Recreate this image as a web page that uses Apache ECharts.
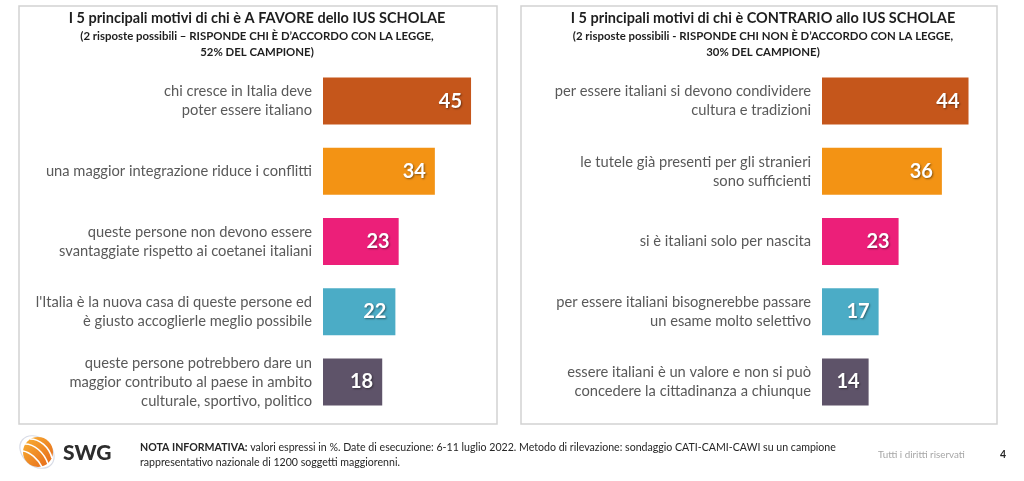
<!DOCTYPE html>
<html>
<head>
<meta charset="utf-8">
<script src="https://cdn.jsdelivr.net/npm/echarts@6/dist/echarts.min.js"></script>
<style>
html,body{margin:0;padding:0;background:#fff;}
#chart{width:1024px;height:481px;}
</style>
</head>
<body>
<div id="chart"></div>
<script>
// ---- DATA ----
var favoreCategories = [
  "chi cresce in Italia deve\npoter essere italiano",
  "una maggior integrazione riduce i conflitti",
  "queste persone non devono essere\nsvantaggiate rispetto ai coetanei italiani",
  "l'Italia è la nuova casa di queste persone ed\nè giusto accoglierle meglio possibile",
  "queste persone potrebbero dare un\nmaggior contributo al paese in ambito\nculturale, sportivo, politico"
];
var favoreValues = [45, 34, 23, 22, 18];

var contrarioCategories = [
  "per essere italiani si devono condividere\ncultura e tradizioni",
  "le tutele già presenti per gli stranieri\nsono sufficienti",
  "si è italiani solo per nascita",
  "per essere italiani bisognerebbe passare\nun esame molto selettivo",
  "essere italiani è un valore e non si può\nconcedere la cittadinanza a chiunque"
];
var contrarioValues = [44, 36, 23, 17, 14];

var barColors = ["#C5561B", "#F39314", "#EC1F79", "#4BACC6", "#5E5369"];

var titleLeft = "I 5 principali motivi di chi è A FAVORE dello IUS SCHOLAE";
var subLeft = "(2 risposte possibili – RISPONDE CHI È D’ACCORDO CON LA LEGGE,\n52% DEL CAMPIONE)";
var titleRight = "I 5 principali motivi di chi è CONTRARIO allo IUS SCHOLAE";
var subRight = "(2 risposte possibili - RISPONDE CHI NON È D’ACCORDO CON LA LEGGE,\n30% DEL CAMPIONE)";

var FONT = "Lato";

function yAxisCfg(gridIndex, cats) {
  return {
    type: 'category', gridIndex: gridIndex, data: cats, inverse: true,
    axisLine: {show: false}, axisTick: {show: false}, splitLine: {show: false},
    axisLabel: {margin: 11, color: '#595959', fontSize: 14.7, lineHeight: 19, fontFamily: FONT, align: 'right'}
  };
}
function xAxisCfg(gridIndex) {
  return {type: 'value', gridIndex: gridIndex, min: 0, max: 50, show: false, splitLine: {show: false}};
}
function seriesCfg(idx, values) {
  return {
    type: 'bar', xAxisIndex: idx, yAxisIndex: idx, data: values, barWidth: 47,
    itemStyle: {color: function (p) { return barColors[p.dataIndex]; }},
    label: {
      show: true, position: 'insideRight', distance: 9, color: '#fff',
      fontFamily: FONT, fontWeight: 'bold', fontSize: 20,
      textShadowColor: 'rgba(0,0,0,0.45)', textShadowBlur: 2, textShadowOffsetX: 1, textShadowOffsetY: 1
    },
    animation: false
  };
}

var chart = echarts.init(document.getElementById('chart'));
chart.setOption({
  animation: false,
  grid: [
    {left: 323, top: 66, width: 164.5, height: 351},
    {left: 822, top: 66, width: 166.5, height: 351}
  ],
  xAxis: [xAxisCfg(0), xAxisCfg(1)],
  yAxis: [yAxisCfg(0, favoreCategories), yAxisCfg(1, contrarioCategories)],
  series: [seriesCfg(0, favoreValues), seriesCfg(1, contrarioValues)],
  graphic: [
    {type: 'rect', shape: {x: 19, y: 6, width: 478, height: 418}, style: {fill: 'none', stroke: '#d2d2d2', lineWidth: 1.5}, z: -1},
    {type: 'rect', shape: {x: 521, y: 6, width: 476, height: 418}, style: {fill: 'none', stroke: '#d2d2d2', lineWidth: 1.5}, z: -1},
    {type: 'text', x: 257, y: 18.5, style: {text: titleLeft, textAlign: 'center', textVerticalAlign: 'middle', font: 'bold 14.5px ' + FONT, fill: '#1e1e1e'}},
    {type: 'text', x: 257, y: 44, style: {text: subLeft, textAlign: 'center', textVerticalAlign: 'middle', font: 'bold 11.4px ' + FONT, fill: '#1e1e1e', lineHeight: 16}},
    {type: 'text', x: 763, y: 18.5, style: {text: titleRight, textAlign: 'center', textVerticalAlign: 'middle', font: 'bold 14.5px ' + FONT, fill: '#1e1e1e'}},
    {type: 'text', x: 763, y: 44, style: {text: subRight, textAlign: 'center', textVerticalAlign: 'middle', font: 'bold 11.4px ' + FONT, fill: '#1e1e1e', lineHeight: 16}},
    // logo
    {type: 'ellipse', shape: {cx: 37, cy: 452, rx: 19, ry: 14}, rotation: -0.7, originX: 37, originY: 452, style: {fill: 'none', stroke: '#d9dce6', lineWidth: 1.2}},
    {type: 'circle', shape: {cx: 38, cy: 452, r: 15}, style: {fill: new echarts.graphic.LinearGradient(0, 0, 1, 1, [{offset: 0, color: '#F9B233'}, {offset: 1, color: '#E5661A'}])}},
    {type: 'bezierCurve', shape: {x1: 25, y1: 444, x2: 48, y2: 464, cpx1: 34, cpy1: 444, cpx2: 44, cpy2: 452}, style: {stroke: '#fff', lineWidth: 1.6, fill: 'none'}},
    {type: 'bezierCurve', shape: {x1: 23, y1: 451, x2: 42, y2: 467, cpx1: 30, cpy1: 452, cpx2: 38, cpy2: 459}, style: {stroke: '#fff', lineWidth: 1.6, fill: 'none'}},
    {type: 'bezierCurve', shape: {x1: 30, y1: 439, x2: 52, y2: 458, cpx1: 40, cpy1: 439, cpx2: 49, cpy2: 447}, style: {stroke: '#fff', lineWidth: 1.6, fill: 'none'}},
    {type: 'text', x: 63, y: 453, style: {text: 'SWG', textVerticalAlign: 'middle', font: '900 21px ' + FONT, fill: '#2d2d2d'}},
    // footer
    {type: 'text', x: 140, y: 448, style: {
      text: '{b|NOTA INFORMATIVA:} valori espressi in %. Date di esecuzione: 6-11 luglio 2022. Metodo di rilevazione: sondaggio CATI-CAMI-CAWI su un campione',
      rich: {b: {fontWeight: 'bold', fontSize: 10.6, fontFamily: FONT, fill: '#262626'}},
      textVerticalAlign: 'middle', font: '10.6px ' + FONT, fill: '#262626'}},
    {type: 'text', x: 140, y: 463, style: {text: 'rappresentativo nazionale di 1200 soggetti maggiorenni.', textVerticalAlign: 'middle', font: '10.6px ' + FONT, fill: '#262626'}},
    {type: 'text', x: 878, y: 455, style: {text: 'Tutti i diritti riservati', textVerticalAlign: 'middle', font: '9.8px ' + FONT, fill: '#a6a6a6'}},
    {type: 'text', x: 1000, y: 455, style: {text: '4', textVerticalAlign: 'middle', font: 'bold 10.5px ' + FONT, fill: '#262626'}}
  ]
});
</script>
</body>
</html>
